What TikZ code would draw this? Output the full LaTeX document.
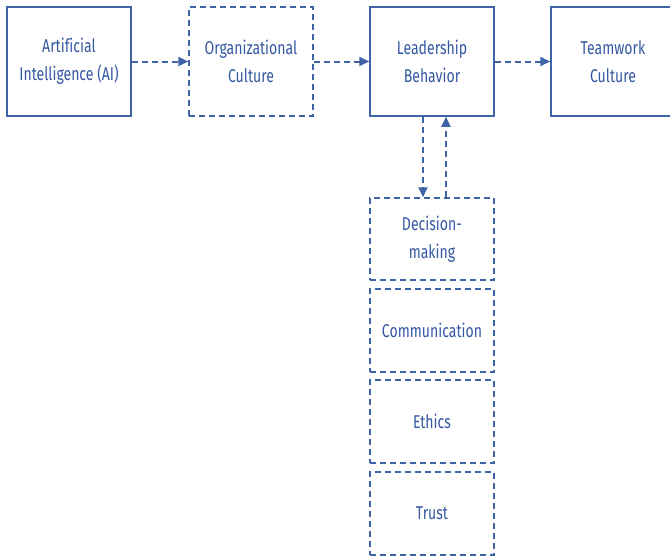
\documentclass[tikz,border=0pt]{standalone}
\usepackage{fontspec}
\setmainfont{Fira Sans}[FakeStretch=0.76, Ligatures=NoCommon]
\usetikzlibrary{arrows.meta}
\definecolor{lineblue}{HTML}{3D63A6}
\definecolor{textblue}{HTML}{3458A2}
\tikzset{
  box/.style={draw=lineblue, line width=1.5pt, minimum width=124pt, inner sep=0pt,
    text=textblue, align=center, font=\fontsize{18.5}{28}\selectfont},
  dbox/.style={box, dash pattern=on 6pt off 4pt},
  conn/.style={draw=lineblue, line width=2pt, dash pattern=on 6pt off 4pt,
    -{Triangle[length=10pt,width=9pt]}}
}
\begin{document}
\begin{tikzpicture}[x=1pt,y=-1pt]
\useasboundingbox (0,0) rectangle (670,557);
\begin{scope}
\clip (0,0) rectangle (670,557);
\node[box, minimum height=109pt] (ai) at (69,61.5) {Artificial\\Intelligence (AI)};
\node[dbox, minimum height=109pt] (oc) at (251,61.5) {Organizational\\Culture};
\node[box, minimum height=109pt] (lb) at (432,61.5) {Leadership\\Behavior};
\node[box, minimum height=109pt] (tc) at (613,61.5) {Teamwork\\Culture};
\node[dbox, minimum height=82pt] (dm) at (432,239) {Decision-\\making};
\node[dbox, minimum height=83pt] (cm) at (432,330.5) {Communication};
\node[dbox, minimum height=83pt] (et) at (432,421.5) {Ethics};
\node[dbox, minimum height=83pt] (tr) at (432,513.5) {Trust};
\draw[conn] (ai.east) -- (oc.west);
\draw[conn] (oc.east) -- (lb.west);
\draw[conn] (lb.east) -- (tc.west);
\draw[conn] (lb.south -| 423,0) -- (dm.north -| 423,0);
\draw[conn] (dm.north -| 446,0) -- (lb.south -| 446,0);
\end{scope}
\end{tikzpicture}
\end{document}
